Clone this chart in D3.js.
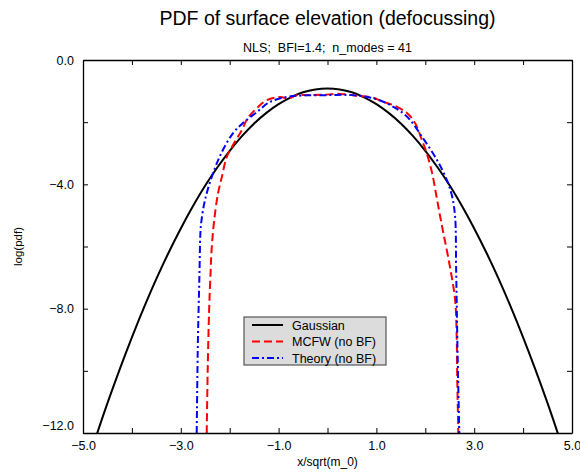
<!DOCTYPE html>
<html>
<head>
<meta charset="utf-8">
<script src="https://cdn.jsdelivr.net/npm/d3@7"></script>
<style>
  body { margin: 0; background: #fff; }
  text { font-family: "Liberation Sans", Arial, Helvetica, sans-serif; }
</style>
</head>
<body>
<div id="chart"></div>
<script>
// data
const gaussX = [-5, -4.75, -4.5, -4.25, -4, -3.75, -3.5, -3.25, -3, -2.75, -2.5, -2.25, -2, -1.75, -1.5, -1.25, -1, -0.75, -0.5, -0.25, 0,
                0.25, 0.5, 0.75, 1, 1.25, 1.5, 1.75, 2, 2.25, 2.5, 2.75, 3, 3.25, 3.5, 3.75, 4, 4.25, 4.5, 4.75, 5];
const gaussY = [-13.42, -12.2, -11.04, -9.95, -8.92, -7.95, -7.04, -6.2, -5.42, -4.7, -4.04, -3.45, -2.92, -2.45, -2.04, -1.7, -1.42, -1.2, -1.04, -0.95, -0.92,
                -0.95, -1.04, -1.2, -1.42, -1.7, -2.04, -2.45, -2.92, -3.45, -4.04, -4.7, -5.42, -6.2, -7.04, -7.95, -8.92, -9.95, -11.04, -12.2, -13.42];

const mcfwX = [-2.47, -2.45, -2.42, -2.39, -2.37, -2.32, -2.24, -2.16, -2.06, -1.93, -1.75, -1.63, -1.44, -1.24, -0.97, -0.8, -0.65, -0.4, -0.1,
               0.25, 0.6, 0.9, 1.13, 1.34, 1.63, 1.79, 1.93, 2.03, 2.14, 2.23, 2.3, 2.37, 2.505, 2.61, 2.64, 2.655, 2.675];
const mcfwY = [-12, -10, -8, -6.8, -6.1, -5.2, -4.3, -3.76, -3.12, -2.73, -2.25, -1.87, -1.54, -1.29, -1.19, -1.24, -1.14, -1.13, -1.12,
               -1.09, -1.15, -1.2, -1.34, -1.45, -1.71, -2.03, -2.57, -3.0, -3.64, -4.4, -5.0, -5.57, -6.66, -7.72, -8.78, -10.4, -12];

const theoryX = [-2.675, -2.65, -2.62, -2.6, -2.58, -2.505, -2.34, -2.16, -1.93, -1.73, -1.44, -1.18, -0.83, -0.5, 0,
                 0.5, 0.93, 1.28, 1.63, 1.95, 2.24, 2.44, 2.55, 2.61, 2.63, 2.655, 2.695];
const theoryY = [-12, -9, -7, -5.6, -5.2, -4.5, -3.64, -2.96, -2.35, -2.03, -1.67, -1.35, -1.19, -1.14, -1.13,
                 -1.13, -1.23, -1.45, -1.83, -2.51, -3.22, -3.86, -4.4, -5.05, -6.66, -9, -12];

const xTicks = [-5, -4, -3, -2, -1, 0, 1, 2, 3, 4, 5];
const yTicks = [0, -2, -4, -6, -8, -10, -12];

const series = [
  {name: "Gaussian", xs: gaussX, ys: gaussY, color: "#000", dash: null},
  {name: "MCFW (no BF)", xs: mcfwX, ys: mcfwY, color: "#ff0000", dash: "8,4"},
  {name: "Theory (no BF)", xs: theoryX, ys: theoryY, color: "#0000ff", dash: "7,3,2,3"}
];

const W = 580, H = 472;
const pL = 83, pR = 572, pT = 60, pB = 433;

const svg = d3.select("#chart").append("svg")
  .attr("width", W).attr("height", H);

const x = d3.scaleLinear().domain([-5, 5]).range([pL, pR]);
const y = d3.scaleLinear().domain([-12, 0]).range([pB, pT]);

svg.append("clipPath").attr("id", "clip")
  .append("rect").attr("x", pL).attr("y", pT)
  .attr("width", pR - pL).attr("height", pB - pT);

// curves
const line = d3.line().curve(d3.curveCatmullRom.alpha(0.5));
const g = svg.append("g").attr("clip-path", "url(#clip)");
series.forEach(s => {
  const pts = s.xs.map((v, i) => [x(v), y(s.ys[i])]);
  g.append("path")
    .attr("d", line(pts))
    .attr("fill", "none")
    .attr("stroke", s.color)
    .attr("stroke-width", 2)
    .attr("stroke-dasharray", s.dash);
});

// axes, ticks inward
const fmt = d3.format(".1f");
const axB = svg.append("g").attr("transform", `translate(0,${pB})`)
  .call(d3.axisBottom(x).tickValues(xTicks).tickSizeInner(-5).tickSizeOuter(0).tickPadding(6)
    .tickFormat(d => (Math.abs(d) % 2 === 1) ? fmt(d) : ""));
const axT = svg.append("g").attr("transform", `translate(0,${pT})`)
  .call(d3.axisTop(x).tickValues(xTicks).tickSizeInner(-5).tickSizeOuter(0).tickFormat(""));
const axL = svg.append("g").attr("transform", `translate(${pL},0)`)
  .call(d3.axisLeft(y).tickValues(yTicks).tickSizeInner(-5).tickSizeOuter(0).tickPadding(9)
    .tickFormat(d => (d % 4 === 0) ? fmt(d) : ""));
const axR = svg.append("g").attr("transform", `translate(${pR},0)`)
  .call(d3.axisRight(y).tickValues(yTicks).tickSizeInner(-5).tickSizeOuter(0).tickFormat(""));

[axB, axT, axL, axR].forEach(a => {
  a.selectAll("text").attr("font-size", 12.5).attr("fill", "#000")
    .style("font-family", "'Liberation Sans', Arial, sans-serif");
  a.select(".domain").attr("stroke", "#000").attr("stroke-width", 1.3);
  a.selectAll(".tick line").attr("stroke", "#000");
});
axL.selectAll(".tick text").filter(d => d === -12).attr("dy", "-0.3em");
axB.selectAll(".tick text").attr("dy", "0.85em");

// titles
svg.append("text").attr("x", (pL + pR) / 2).attr("y", 25)
  .attr("text-anchor", "middle").attr("font-size", 19.5)
  .text("PDF of surface elevation (defocussing)");
svg.append("text").attr("x", (pL + pR) / 2).attr("y", 52)
  .attr("text-anchor", "middle").attr("font-size", 12.5)
  .style("white-space", "pre")
  .text("NLS;  BFI=1.4;  n_modes = 41");
svg.append("text").attr("x", (pL + pR) / 2).attr("y", 466)
  .attr("text-anchor", "middle").attr("font-size", 12)
  .text("x/sqrt(m_0)");
svg.append("text").attr("transform", `translate(22,${(pT + pB) / 2}) rotate(-90)`)
  .attr("text-anchor", "middle").attr("font-size", 11.5)
  .text("log(pdf)");

// legend
const lg = svg.append("g").attr("transform", "translate(244,317)");
lg.append("rect").attr("width", 142).attr("height", 48)
  .attr("fill", "#dcdcdc").attr("stroke", "#555").attr("stroke-width", 1.2);
series.forEach((s, i) => {
  const yy = 8 + i * 16.5;
  lg.append("line").attr("x1", 8).attr("x2", 39).attr("y1", yy).attr("y2", yy)
    .attr("stroke", s.color).attr("stroke-width", 2).attr("stroke-dasharray", s.dash);
  lg.append("text").attr("x", 48).attr("y", yy + 4.5).attr("font-size", 12.5).text(s.name);
});
</script>
</body>
</html>
